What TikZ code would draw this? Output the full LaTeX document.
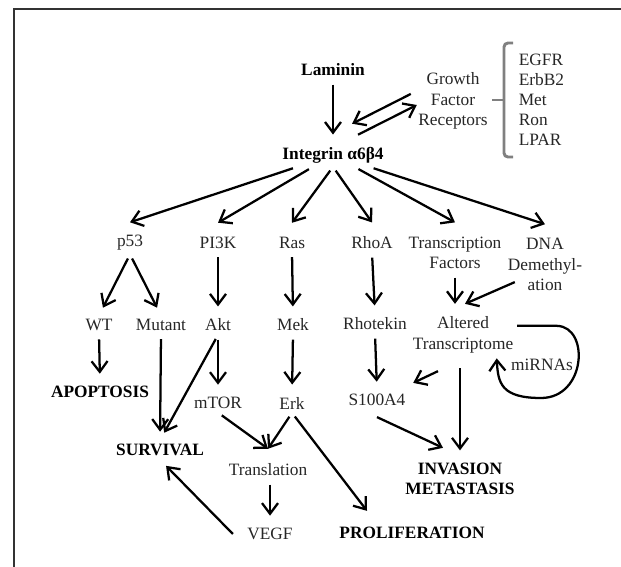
\documentclass[tikz,border=0pt]{standalone}
\usepackage{fontspec}
\setmainfont{Liberation Serif}
\usetikzlibrary{arrows.meta}

\begin{document}
\begin{tikzpicture}[x=0.75pt, y=-0.75pt, line width=1.7pt,
  arr/.style={-{Straight Barb[length=8pt,width=12pt]}, shorten >=6.5pt, shorten <=3.5pt},
  arrtip/.style={arr, shorten >=0pt},
  arrbare/.style={arr, shorten >=0pt, shorten <=0pt},
  lbl/.style={font=\fontsize{13}{15.5}\selectfont, text=black!85, inner sep=2pt, align=center},
  result/.style={lbl, font=\fontsize{13}{15.5}\selectfont\bfseries, text=black},
  brk/.style={line width=2.2pt, gray, rounded corners=3pt}]
\useasboundingbox (0,0) rectangle (621,567);
\draw[line width=1pt, black!80] (14,567) -- (14,9) -- (621,9);
\begin{scope}[every node/.style={lbl}]
\node[result] (lam) at (333,70) {Laminin};
\node[result] (itg) at (333,155) {Integrin α6β4};
\node (gfr) at (453,101) {Growth\\Factor\\Receptors};
\node[anchor=west, align=left, font=\fontsize{13}{15}\selectfont] (rcp) at (515,100) {EGFR\\ErbB2\\Met\\Ron\\LPAR};
\node (p53) at (130,243) {p53};
\node (pik) at (218,243) {PI3K};
\node (ras) at (292,243) {Ras};
\node (rhoa) at (372,243) {RhoA};
\node (tf) at (455,253) {Transcription\\Factors};
\node (dna) at (545,264.5) {DNA\\Demethyl-\\ation};
\node (wt) at (99,325) {WT};
\node (mut) at (161,325) {Mutant};
\node (akt) at (218,325) {Akt};
\node (mek) at (293,325) {Mek};
\node (rtk) at (375,324) {Rhotekin};
\node (atr) at (463,334.5) {Altered\\Transcriptome};
\node[result] (apo) at (100,392) {APOPTOSIS};
\node (mtor) at (218,403) {mTOR};
\node (erk) at (292,403) {Erk};
\node (s100) at (377,400) {S100A4};
\node (mir) at (542,365) {miRNAs};
\node[result] (surv) at (160,450) {SURVIVAL};
\node (trl) at (268,470) {Translation};
\node[result] (inv) at (460,479) {INVASION\\METASTASIS};
\node (vegf) at (270,534) {VEGF};
\node[result] (prol) at (412,533) {PROLIFERATION};
\end{scope}
% receptor bracket
\draw[brk] ([xshift=-1.5pt,yshift=42.75pt]rcp.west) -| ([xshift=-8.25pt,yshift=-42.75pt]rcp.west) -- ([xshift=-1.5pt,yshift=-42.75pt]rcp.west);
\draw[brk] ([xshift=-8.25pt]rcp.west) -- ([xshift=-17.25pt]rcp.west);
\begin{scope}
\draw (lam.south) edge[arr] (itg.north);
\draw ([xshift=-2.8pt,yshift=5.3pt]gfr.west) edge[arrbare] ([xshift=14.3pt,yshift=14.6pt]itg.north);
\draw ([xshift=18.8pt,yshift=6.4pt]itg.north) edge[arrbare] ([xshift=1.7pt,yshift=-3pt]gfr.west);
\draw (itg) edge[arrtip] ([yshift=7pt]p53.north);
\draw (itg) edge[arrtip] ([yshift=8pt]pik.north);
\draw (itg.south) edge[arrtip] ([yshift=8pt]ras.north);
\draw (itg.south) edge[arrtip] ([yshift=8pt]rhoa.north);
\draw (itg) edge[arrtip] ([yshift=8pt]tf.north);
\draw (itg) edge[arrtip] ([yshift=7.5pt]dna.north);
\draw (p53.south) edge[arr] (wt.north);
\draw (p53.south) edge[arr] (mut.north);
\draw (pik.south) edge[arr] (akt.north);
\draw (ras.south) edge[arr] (mek.north);
\draw (rhoa.south) edge[arr] (rtk.north);
\draw (tf.south) edge[arr] (tf.south |- atr.north);
\draw ([xshift=8pt,yshift=9.5pt]dna.south west) edge[arrbare] ([xshift=1.5pt,yshift=6.5pt]atr.north);
\draw (wt.south) edge[arr] (apo.north);
\draw (mut.south) edge[arr] (surv.north);
\draw (akt.south) edge[arr] (surv.north);
\draw (akt.south) edge[arr] (mtor.north);
\draw (mek.south) edge[arr] (erk.north);
\draw (rtk.south) edge[arr] (s100.north);
\draw ([xshift=21.75pt,yshift=-11pt]atr.south west) edge[arrbare] ([xshift=3pt,yshift=5.6pt]s100.north east);
\draw (inv.north |- atr.south) edge[arr, shorten <=9pt] (inv.north);
\draw ([yshift=-5.6pt]s100.south) edge[arrbare] ([xshift=-12.75pt,yshift=8.4pt]inv.north);
\draw (mtor.south) edge[arrtip] ([yshift=8.5pt]trl.north);
\draw (erk.south) edge[arrtip] ([yshift=8.5pt]trl.north);
\draw (erk.south) edge[arrtip] ([xshift=-33.75pt,yshift=9.4pt]prol.north);
\draw (vegf.north |- trl.south) edge[arr] (vegf.north);
\draw ([xshift=-8pt]vegf.west) edge[arr, shorten <=0pt] (surv.south);
% miRNA feedback loop
\draw[arrbare] ([yshift=-10pt]atr.north east) -- ++(40,0) .. controls (590,327) and (586,398) .. (541,398) .. controls (501,398) and (498,383) .. ([xshift=-8pt,yshift=5pt]mir.west);
\end{scope}
\end{tikzpicture}
\end{document}
